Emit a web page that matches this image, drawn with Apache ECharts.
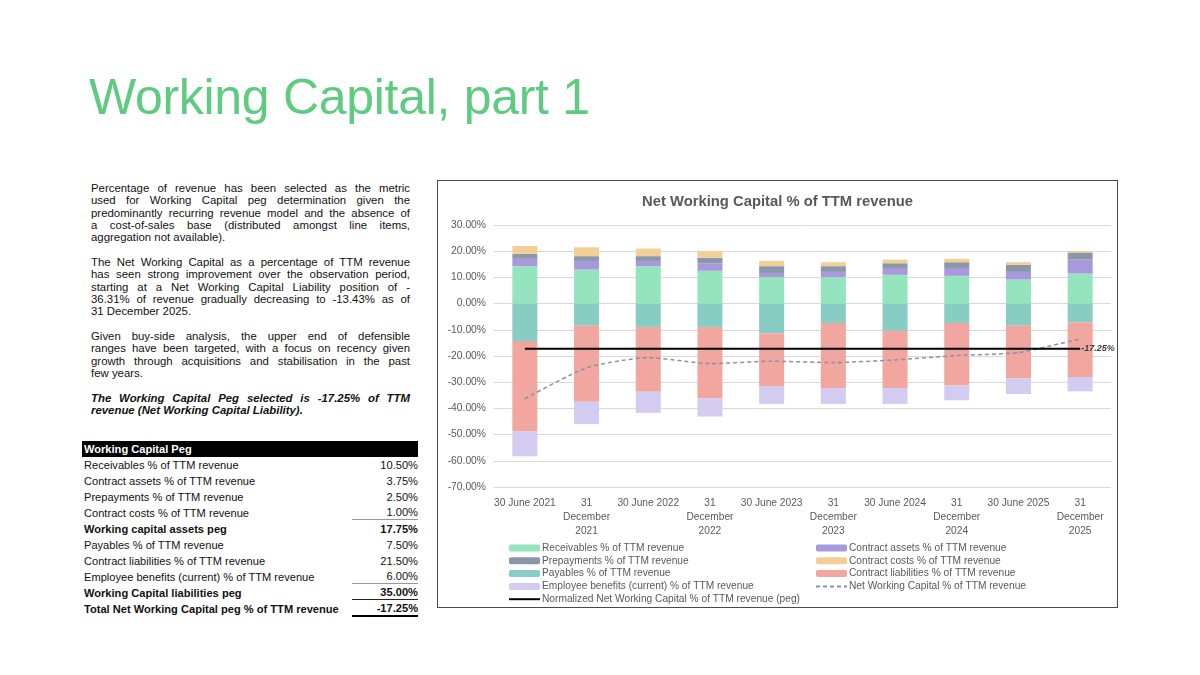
<!DOCTYPE html>
<html>
<head>
<meta charset="utf-8">
<script src="https://cdn.jsdelivr.net/npm/echarts@6/dist/echarts.min.js"></script>
<style>
  html, body { margin: 0; padding: 0; background: #fff; }
  body { width: 1200px; height: 675px; position: relative; overflow: hidden; font-family: "Liberation Sans", Arial, sans-serif; }
  #title { position: absolute; left: 89px; top: 68px; font-size: 50px; color: #5fcb80; white-space: nowrap; letter-spacing: -0.3px; }
  #notes { position: absolute; left: 91px; top: 182px; width: 319px; font-size: 11.4px; line-height: 12.35px; color: #111; }
  #notes .l { text-align: justify; text-align-last: justify; }
  #notes .e { text-align: left; }
  #notes .gap { height: 12.35px; }
  #notes .bi { font-weight: bold; font-style: italic; }
  #peg { position: absolute; left: 82px; top: 441px; width: 336px; font-size: 11.1px; color: #111; }
  #peg .hd { background: #000; color: #fff; font-weight: bold; height: 16px; line-height: 16px; padding-left: 2px; }
  #peg .row { position: relative; height: 16px; line-height: 16px; padding-left: 2px; }
  #peg .row .v { position: absolute; right: 0; top: 0; }
  #peg .b { font-weight: bold; }
  #peg .u1 .v { border-bottom: 1px solid #999; line-height: 14px; width: 66px; text-align: right; }
  #peg .u2 .v { border-bottom: 1px solid #222; line-height: 14px; width: 66px; text-align: right; }
  #peg .u3 .v { border-bottom: 2px solid #000; line-height: 14px; width: 66px; text-align: right; }
  #box { position: absolute; left: 437px; top: 180px; width: 679px; height: 426px; border: 1px solid #4a4a4a; }
  #chart { position: absolute; left: 0; top: 0; width: 679px; height: 426px; }
</style>
</head>
<body>
<div id="title">Working Capital, part 1</div>

<div id="notes">
  <div class="l">Percentage of revenue has been selected as the metric</div>
  <div class="l">used for Working Capital peg determination given the</div>
  <div class="l">predominantly recurring revenue model and the absence of</div>
  <div class="l">a cost-of-sales base (distributed amongst line items,</div>
  <div class="e">aggregation not available).</div>
  <div class="gap"></div>
  <div class="l">The Net Working Capital as a percentage of TTM revenue</div>
  <div class="l">has seen strong improvement over the observation period,</div>
  <div class="l">starting at a Net Working Capital Liability position of -</div>
  <div class="l">36.31% of revenue gradually decreasing to -13.43% as of</div>
  <div class="e">31 December 2025.</div>
  <div class="gap"></div>
  <div class="l">Given buy-side analysis, the upper end of defensible</div>
  <div class="l">ranges have been targeted, with a focus on recency given</div>
  <div class="l">growth through acquisitions and stabilisation in the past</div>
  <div class="e">few years.</div>
  <div class="gap"></div>
  <div class="l bi">The Working Capital Peg selected is -17.25% of TTM</div>
  <div class="e bi">revenue (Net Working Capital Liability).</div>
</div>

<div id="peg"></div>

<div id="box"><div id="chart"></div></div>

<script>
// peg table
const pegLabels = [
  'Receivables % of TTM revenue',
  'Contract assets % of TTM revenue',
  'Prepayments % of TTM revenue',
  'Contract costs % of TTM revenue',
  'Working capital assets peg',
  'Payables % of TTM revenue',
  'Contract liabilities % of TTM revenue',
  'Employee benefits (current) % of TTM revenue',
  'Working Capital liabilities peg',
  'Total Net Working Capital peg % of TTM revenue'
]
const pegValues = ['10.50%', '3.75%', '2.50%', '1.00%', '17.75%', '7.50%', '21.50%', '6.00%', '35.00%', '-17.25%']
const pegRowClass = ['', '', '', 'u1', 'b', '', '', 'u1', 'b u2', 'b u3']

// chart data (% of TTM revenue)
const periods = [
  '30 June 2021', '31\nDecember\n2021',
  '30 June 2022', '31\nDecember\n2022',
  '30 June 2023', '31\nDecember\n2023',
  '30 June 2024', '31\nDecember\n2024',
  '30 June 2025', '31\nDecember\n2025'
]
const receivables = [14.3, 13.0, 14.3, 12.5, 10.1, 10.1, 11.0, 10.6, 9.2, 11.5]
const contractAssets = [2.8, 3.3, 2.0, 2.9, 1.6, 2.0, 2.6, 3.0, 2.9, 5.3]
const prepayments = [1.9, 1.8, 1.8, 2.1, 2.6, 2.2, 1.8, 2.2, 2.7, 2.7]
const contractCosts = [3.0, 3.4, 2.9, 2.6, 2.0, 1.5, 1.4, 1.3, 1.0, 0.6]
const payables = [-14.3, -8.4, -8.9, -8.9, -11.3, -7.4, -10.4, -7.4, -8.4, -7.1]
const contractLiabilities = [-34.5, -29.1, -24.7, -27.2, -20.2, -24.8, -21.8, -23.9, -20.1, -20.9]
const employeeBenefits = [-9.5, -8.5, -8.1, -7.0, -6.8, -6.1, -6.1, -5.6, -6.0, -5.5]
const netWorkingCapital = [-36.31, -24.5, -20.6, -22.9, -22.0, -22.5, -21.5, -19.8, -18.7, -13.43]
const pegLevel = -17.25
const yTicks = { min: -70, max: 30, step: 10 }

let html = '<div class="hd">Working Capital Peg</div>'
for (let i = 0; i < pegLabels.length; i++) {
  html += '<div class="row ' + pegRowClass[i] + '">' + pegLabels[i] + '<span class="v">' + pegValues[i] + '</span></div>'
}
document.getElementById('peg').innerHTML = html

const sans = '"Liberation Sans", Arial, sans-serif'
const grey = '#595959'

function bar(name, data, color) {
  return {
    name: name,
    type: 'bar',
    stack: 'wc',
    barWidth: 25,
    data: data,
    itemStyle: { color: color },
    emphasis: { disabled: true }
  }
}

const legendBase = {
  orient: 'vertical',
  top: 361,
  padding: 0,
  itemWidth: 31,
  itemHeight: 7,
  itemGap: 0.8,
  textStyle: { fontFamily: sans, fontSize: 10.2, color: grey, lineHeight: 12, padding: [0, 0, 0, -3] }
}
const hideDot = { opacity: 0 }

const chart = echarts.init(document.getElementById('chart'))
chart.setOption({
  animation: false,
  backgroundColor: '#fff',
  title: {
    text: 'Net Working Capital % of TTM revenue',
    left: 'center',
    top: 8,
    textStyle: { fontFamily: sans, fontSize: 14.8, fontWeight: 'bold', color: grey }
  },
  grid: { left: 56, top: 44, width: 617, height: 262 },
  legend: [
    Object.assign({}, legendBase, {
      left: 70,
      data: [
        'Receivables % of TTM revenue',
        'Prepayments % of TTM revenue',
        'Payables % of TTM revenue',
        'Employee benefits (current) % of TTM revenue',
        { name: 'Normalized Net Working Capital % of TTM revenue (peg)', itemStyle: hideDot }
      ]
    }),
    Object.assign({}, legendBase, {
      left: 377,
      data: [
        'Contract assets % of TTM revenue',
        'Contract costs % of TTM revenue',
        'Contract liabilities % of TTM revenue',
        { name: 'Net Working Capital % of TTM revenue', itemStyle: hideDot }
      ]
    })
  ],
  xAxis: {
    type: 'category',
    data: periods,
    axisLine: { show: false },
    axisTick: { show: false },
    axisLabel: { interval: 0, margin: 9, fontFamily: sans, fontSize: 10.2, lineHeight: 14, color: grey }
  },
  yAxis: {
    type: 'value',
    min: yTicks.min,
    max: yTicks.max,
    interval: yTicks.step,
    axisLine: { show: false },
    axisTick: { show: false },
    splitLine: { lineStyle: { color: '#d9d9d9', width: 1 } },
    axisLabel: {
      margin: 8,
      fontFamily: sans,
      fontSize: 10.3,
      color: grey,
      formatter: v => v.toFixed(2) + '%'
    }
  },
  series: [
    bar('Receivables % of TTM revenue', receivables, '#94e5bd'),
    bar('Contract assets % of TTM revenue', contractAssets, '#a898dc'),
    bar('Prepayments % of TTM revenue', prepayments, '#8c96a9'),
    bar('Contract costs % of TTM revenue', contractCosts, '#f3cf98'),
    bar('Payables % of TTM revenue', payables, '#87cdc3'),
    bar('Contract liabilities % of TTM revenue', contractLiabilities, '#f1a69f'),
    bar('Employee benefits (current) % of TTM revenue', employeeBenefits, '#d4cbf1'),
    {
      name: 'Normalized Net Working Capital % of TTM revenue (peg)',
      type: 'line',
      symbol: 'none',
      data: periods.map(() => pegLevel),
      itemStyle: { color: '#000' },
      lineStyle: { color: '#000', width: 2 },
      endLabel: {
        show: true,
        distance: 1,
        formatter: p => p.value.toFixed(2) + '%',
        fontFamily: sans,
        fontSize: 9,
        fontStyle: 'italic',
        fontWeight: 'bold',
        color: '#404040'
      },
      z: 5
    },
    {
      name: 'Net Working Capital % of TTM revenue',
      type: 'line',
      symbol: 'none',
      smooth: 0.2,
      data: netWorkingCapital,
      itemStyle: { color: '#8a93a6' },
      lineStyle: { color: '#8a93a6', width: 1.5, type: [4, 3] },
      z: 4
    }
  ]
})
</script>
</body>
</html>
